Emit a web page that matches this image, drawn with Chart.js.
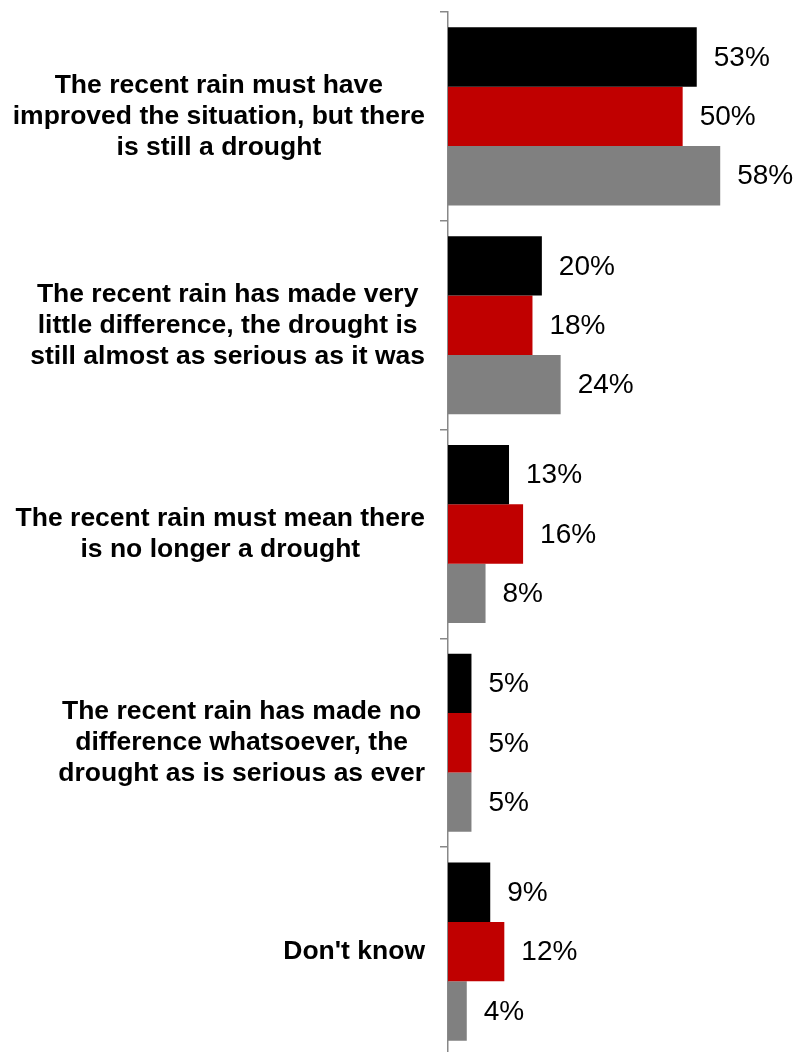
<!DOCTYPE html>
<html>
<head>
<meta charset="utf-8">
<script src="https://cdn.jsdelivr.net/npm/chart.js@4/dist/chart.umd.min.js"></script>
<style>
    html, body { margin: 0; padding: 0; background: #fff; overflow: hidden; }
    #wrap { position: relative; width: 800px; height: 1060px; }
</style>
</head>
<body>
<div id="wrap"><canvas id="droughtChart"></canvas></div>
<script>
// Survey answers, one entry per line of the label
const categories = [
    ['The recent rain must have', 'improved the situation, but there', 'is still a drought'],
    ['The recent rain has made very', 'little difference, the drought is', 'still almost as serious as it was'],
    ['The recent rain must mean there', 'is no longer a drought'],
    ['The recent rain has made no', 'difference whatsoever, the', 'drought as is serious as ever'],
    ["Don't know"]
];

// Three series (black / red / grey), values in percent
const seriesBlack = [53, 20, 13, 5, 9];
const seriesRed = [50, 18, 16, 5, 12];
const seriesGrey = [58, 24, 8, 5, 4];

const LABEL_FONT = 'bold 26.5px "Liberation Sans", Arial, sans-serif';
const VALUE_FONT = '28px "Liberation Sans", Arial, sans-serif';

// Category labels: each block right-aligned at the axis, its lines centred
const categoryLabels = {
    id: 'categoryLabels',
    afterDraw(chart) {
        const ctx = chart.ctx;
        const yScale = chart.scales.y;
        const right = 425;
        const lineHeight = 31;
        ctx.save();
        ctx.font = LABEL_FONT;
        ctx.fillStyle = '#000';
        ctx.textAlign = 'center';
        ctx.textBaseline = 'middle';
        yScale.getLabels().forEach((lines, i) => {
            const yc = yScale.getPixelForTick(i);
            const widest = Math.max(...lines.map(l => ctx.measureText(l).width));
            const xc = right - widest / 2;
            const top = yc - (lines.length - 1) * lineHeight / 2;
            lines.forEach((line, j) => ctx.fillText(line, xc, top + j * lineHeight));
        });
        ctx.restore();
    }
};

// Percent labels to the right of every bar
const valueLabels = {
    id: 'valueLabels',
    afterDatasetsDraw(chart) {
        const ctx = chart.ctx;
        ctx.save();
        ctx.font = VALUE_FONT;
        ctx.fillStyle = '#000';
        ctx.textAlign = 'left';
        ctx.textBaseline = 'middle';
        chart.data.datasets.forEach((ds, di) => {
            chart.getDatasetMeta(di).data.forEach((bar, i) => {
                ctx.fillText(ds.data[i] + '%', bar.x + 17, bar.y + 1);
            });
        });
        ctx.restore();
    }
};

const ctx = document.getElementById('droughtChart').getContext('2d');
new Chart(ctx, {
    type: 'bar',
    data: {
        labels: categories,
        datasets: [
            { data: seriesBlack, backgroundColor: '#000000' },
            { data: seriesRed, backgroundColor: '#C00000' },
            { data: seriesGrey, backgroundColor: '#808080' }
        ]
    },
    options: {
        indexAxis: 'y',
        responsive: true,
        maintainAspectRatio: false,
        animation: false,
        events: [],
        layout: { padding: { top: 12, bottom: 4, left: 0, right: 0 } },
        datasets: {
            bar: { categoryPercentage: 0.853, barPercentage: 1.0 }
        },
        plugins: {
            legend: { display: false },
            tooltip: { enabled: false }
        },
        scales: {
            x: {
                display: false,
                min: 0,
                max: 75
            },
            y: {
                afterFit(scale) { scale.width = 448; },
                ticks: { display: false },
                grid: {
                    offset: true,
                    drawOnChartArea: false,
                    drawTicks: true,
                    tickLength: 8,
                    color: '#888888',
                    lineWidth: 1.5
                },
                border: { display: true, color: '#888888', width: 1.5 }
            }
        }
    },
    plugins: [categoryLabels, valueLabels]
});
</script>
</body>
</html>
